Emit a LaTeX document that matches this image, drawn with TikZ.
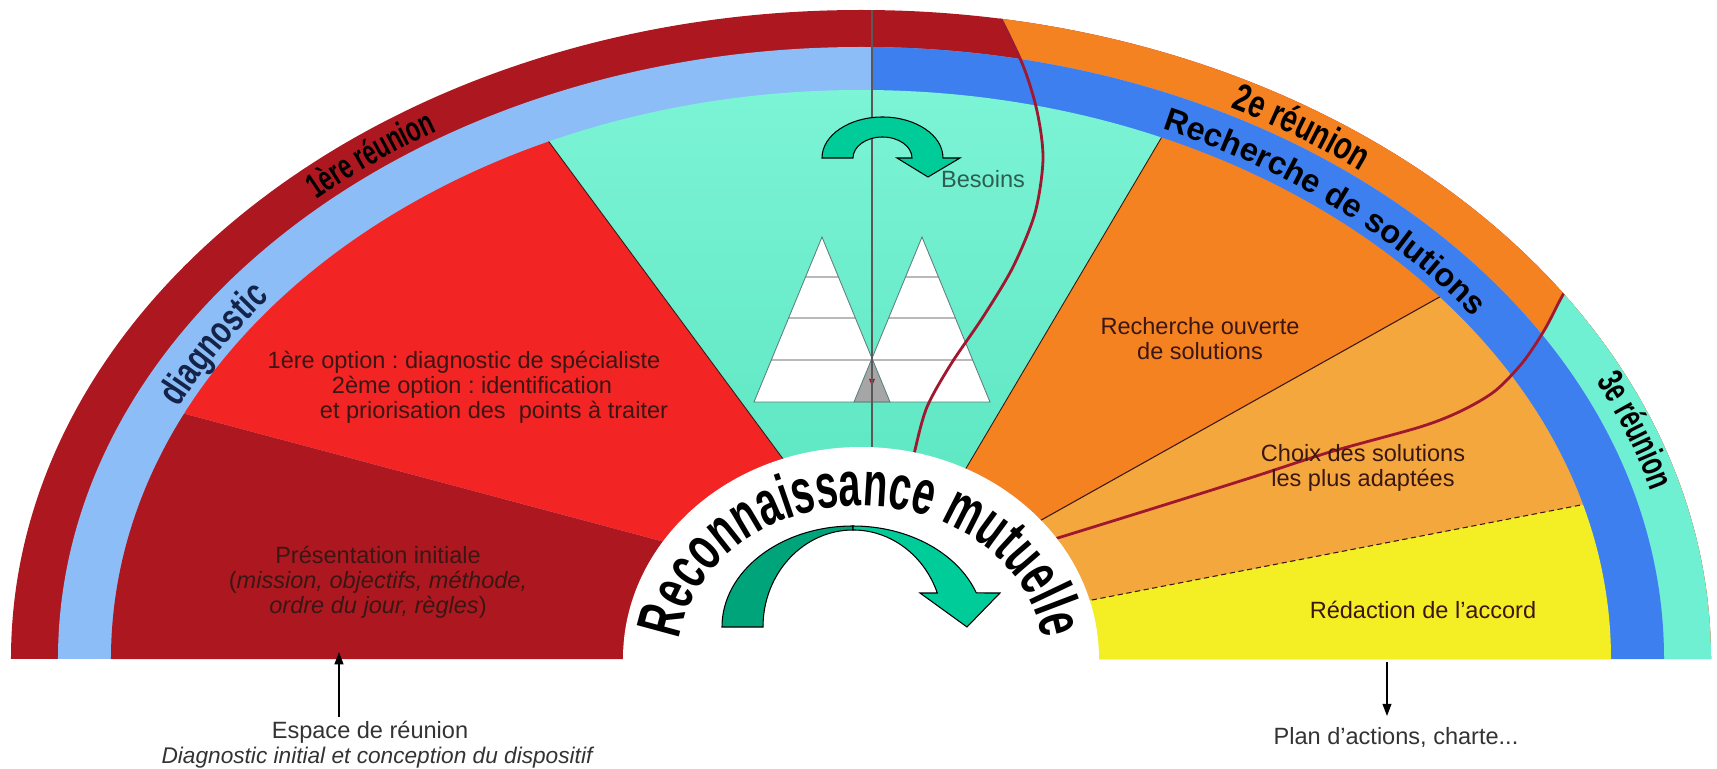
\documentclass[tikz,border=0pt]{standalone}
\usepackage{fontspec}
\setmainfont{Liberation Sans}
\newfontfamily\narrowfont[FakeStretch=0.66]{Liberation Sans}
\newfontfamily\semifont[FakeStretch=0.74]{Liberation Sans}
\newfontfamily\ringfamily[FakeStretch=0.63]{Liberation Sans}
\usetikzlibrary{decorations.text,arrows.meta}
\frenchspacing

\definecolor{bordeaux}{HTML}{AD1820}
\definecolor{vermilion}{HTML}{F32424}
\definecolor{skyband}{HTML}{8CBDF7}
\definecolor{blueband}{HTML}{3E7FF0}
\definecolor{mint}{HTML}{6FF0D2}
\definecolor{mintlight}{HTML}{86F8DC}
\definecolor{mintdark}{HTML}{5CE6C1}
\definecolor{tangerine}{HTML}{F58220}
\definecolor{apricot}{HTML}{F4A73C}
\definecolor{lemon}{HTML}{F4EE24}
\definecolor{wine}{HTML}{A01830}
\definecolor{jade}{HTML}{00CC99}
\definecolor{jadedark}{HTML}{00A47B}
\definecolor{ink}{HTML}{3A1614}
\definecolor{navy}{HTML}{13234A}
\definecolor{besoinink}{HTML}{2C5E54}
\definecolor{greyink}{HTML}{333333}

\newcommand\bandfont{\narrowfont\bfseries\fontsize{20}{20}\selectfont}
\newcommand\ringfont{\ringfamily\bfseries\fontsize{36}{36}\selectfont}

\tikzset{
  sector/.style={font=\fontsize{13.4}{14.2}\selectfont, text=ink, align=center, inner sep=0pt},
  caption/.style={font=\fontsize{13.4}{14.2}\selectfont, text=greyink, inner sep=0pt},
  pyramid/.style={draw=gray!75!teal, line width=0.5pt},
  crease/.style={wine, line width=1.6pt},
  bendarrow/.style={draw=black, line width=0.6pt},
  arcword/.style 2 args={decorate, decoration={text along path, text align=center, text={|#1|#2}}},
  pointer/.style={-{Triangle[length=7pt,width=5pt]}, line width=1pt},
}

\begin{document}
\begin{tikzpicture}[x=0.02cm, y=0.02cm]
  \useasboundingbox (-861,-109) rectangle (856,659);

  % Outer band: the three meetings
  \begin{scope}
    \clip (-850,0) arc[start angle=180, end angle=0, x radius=850, y radius=649] -- cycle;
    \fill[bordeaux] (-900,0) rectangle (900,700);
    \fill[tangerine] plot[smooth] coordinates {(130,660) (161,596) (176,548) (182,500) (174,446) (152,392) (122,342) (90,295) (66,252) (54,209) (50,185)} -- (50,0) -- (900,0) -- (900,700) -- cycle;
    \fill[mint] plot[smooth] coordinates {(722,392) (703,366) (684,330) (662,297) (634,268) (600,248) (559,232) (469,207) (392,182) (300,153) (200,122) (180,116)} -- (180,0) -- (900,0) -- (900,392) -- cycle;
  \end{scope}

  % Second band: diagnostic / solutions
  \begin{scope}
    \clip (-803,0) arc[start angle=180, end angle=0, x radius=803, y radius=612] -- cycle;
    \fill[skyband] (-900,0) rectangle (900,700);
    \fill[blueband] (11,0) rectangle (900,700);
  \end{scope}

  % Sectors
  \begin{scope}
    \clip (-750,0) arc[start angle=180, end angle=0, x radius=750, y radius=569] -- cycle;
    \fill[bordeaux] (-900,0) -- (-900,305) -- (-170,110) -- (-100,0) -- cycle;
    \fill[vermilion] (-900,305) -- (-900,700) -- (-447,700) -- (-41,150) -- (-170,110) -- cycle;
    \shade[top color=mintlight, bottom color=mintdark] (-447,700) -- (406,700) -- (81,150) -- (-41,150) -- cycle;
    \fill[tangerine] (406,700) -- (900,700) -- (900,542) -- (150,122) -- (81,150) -- cycle;
    \fill[apricot] (900,542) -- (900,189) -- (200,53) -- (150,122) -- cycle;
    \fill[lemon] (900,189) -- (900,0) -- (100,0) -- (200,53) -- cycle;
    % thin separations
    \draw[ink, line width=0.5pt] (-447,700) -- (-41,150);
    \draw[ink, line width=0.5pt] (406,700) -- (81,150);
    \draw[ink, line width=0.6pt] (900,542) -- (150,122);
    \draw[ink, densely dashed, line width=0.6pt] (900,189) -- (200,53);
  \end{scope}

  % Pyramids of needs
  \fill[white] (-107,257) -- (-39,422) -- (29,257) -- cycle;
  \fill[white] (-7,257) -- (61,422) -- (129,257) -- cycle;
  \fill[gray!70] (-7,257) -- (11,300.7) -- (29,257) -- cycle;
  \begin{scope}
    \clip (-107,257) -- (-39,422) -- (29,257) -- cycle (-7,257) -- (61,422) -- (129,257) -- cycle;
    \foreach \y in {299,341,382}
      \draw[gray!55, line width=0.6pt] (-120,\y) -- (140,\y);
  \end{scope}
  \draw[pyramid] (-107,257) -- (-39,422) -- (29,257) -- cycle;
  \draw[pyramid] (-7,257) -- (61,422) -- (129,257) -- cycle;
  \fill[wine] (8,280) -- (14,280) -- (11,273) -- cycle;

  % Axis line
  \draw[gray!70!black, line width=0.7pt] (11,649) -- (11,200);

  % Meeting boundaries
  \begin{scope}
    \clip (-850,0) arc[start angle=180, end angle=0, x radius=850, y radius=649] -- cycle;
    \draw[crease] plot[smooth] coordinates {(130,660) (161,596) (176,548) (182,500) (174,446) (152,392) (122,342) (90,295) (66,252) (54,209) (50,185)};
    \draw[crease] plot[smooth] coordinates {(722,392) (703,366) (684,330) (662,297) (634,268) (600,248) (559,232) (469,207) (392,182) (300,153) (200,122) (180,116)};
  \end{scope}

  % Inner space
  \fill[white] (0,0) ellipse[x radius=238, y radius=212];

  % Words along the bands
  \path[arcword={\color{black}\bandfont}{1ère réunion}] (158.5:812 and 619) arc[start angle=158.5, end angle=98.5, x radius=812, y radius=619];
  \path[arcword={\color{navy}\semifont\bfseries\fontsize{22}{22}\selectfont}{diagnostic}] (179.5:758 and 577) arc[start angle=179.5, end angle=119.5, x radius=758, y radius=577];
  \path[arcword={\color{black}\semifont\bfseries\fontsize{22}{22}\selectfont}{2e réunion}] (85:812 and 619) arc[start angle=85, end angle=27, x radius=812, y radius=619];
  \path[arcword={\color{black}\bfseries\fontsize{18.5}{18.5}\selectfont}{Recherche de solutions}] (88:759 and 578) arc[start angle=88, end angle=10, x radius=759, y radius=578];
  \path[arcword={\color{black}\narrowfont\bfseries\fontsize{21}{21}\selectfont}{3e réunion}] (44:820 and 626) arc[start angle=44, end angle=-4, x radius=820, y radius=626];
  \path[arcword={\color{black}\ringfont}{Reconnaissance mutuelle}] (188:183 and 153) arc[start angle=188, end angle=-8, x radius=183, y radius=153];

  % Turning arrows
  \path[bendarrow, fill=jade] (-39,501) arc[start angle=180, end angle=0, x radius=60.5, y radius=41]
    -- (99,501) -- (67,482) -- (36,501) -- (51,501)
    arc[start angle=0, end angle=180, x radius=29.5, y radius=21] -- cycle;
  \path[bendarrow, fill=jadedark] (-139,32) arc[start angle=180, end angle=90, x radius=131, y radius=101]
    -- (-8,129) arc[start angle=90, end angle=180, x radius=90, y radius=97] -- cycle;
  \path[bendarrow, fill=jade] (-8,133) arc[start angle=90, end angle=19.7, x radius=131, y radius=101]
    -- (139,66) -- (106,32) -- (59,66) -- (76.3,66)
    arc[start angle=20.5, end angle=90, x radius=90, y radius=97] -- cycle;

  % Sector texts
  \node[sector] (option1) at (-397,297) {1ère option : diagnostic de spécialiste};
  \node[sector] (option2) at (-389,272) {2ème option : identification};
  \node[sector] (option3) at (-367,247) {et priorisation des \ points à traiter};
  \node[sector] (presentation) at (-483,77) {Présentation initiale\\(\textit{mission, objectifs, méthode,}\\\textit{ordre du jour, règles})};
  \node[sector] (ouverte) at (339,320) {Recherche ouverte\\de solutions};
  \node[sector] (choix) at (502,191) {Choix des solutions\\les plus adaptées};
  \node[sector] (redaction) at (562,49) {Rédaction de l’accord};
  \node[sector, text=besoinink] (besoins) at (122,480) {Besoins};

  % Entry and exit
  \node[caption] (espace) at (-491,-73) {Espace de réunion};
  \node[caption, font=\fontsize{12.9}{14}\selectfont\itshape] (conception) at (-484,-99) {Diagnostic initial et conception du dispositif};
  \coordinate (entree) at (-522,7);
  \draw[pointer] ([yshift=2pt]espace.north -| entree) -- (entree);
  \node[caption] (plan) at (535,-78) {Plan d’actions, charte...};
  \coordinate (sortie) at (526,-3);
  \draw[pointer] (sortie) -- ([yshift=6pt]plan.north -| sortie);
\end{tikzpicture}
\end{document}
